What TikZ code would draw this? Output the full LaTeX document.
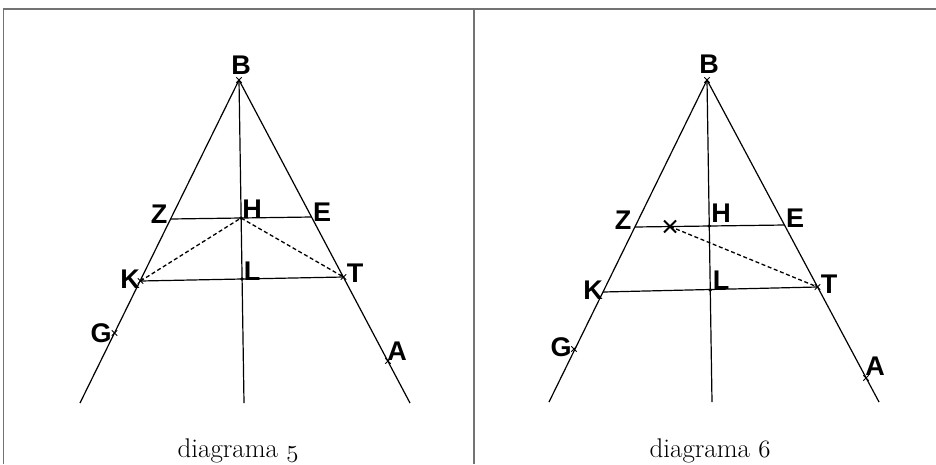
\documentclass[tikz,border=0pt]{standalone}
\usepackage{fontspec}
\newfontfamily\lblfont{Liberation Sans}
\usetikzlibrary{shapes.misc}
\tikzset{
  lbl/.style={font=\lblfont\bfseries\fontsize{27}{27}\selectfont,inner sep=0pt},
  capt/.style={font=\fontsize{27}{27}\selectfont,anchor=base,inner sep=0pt},
  ln/.style={line width=1.2pt},
  dsh/.style={line width=1.3pt,dash pattern=on 4pt off 2.6pt},
  dot/.style={circle,fill,inner sep=0pt,minimum size=3.8pt},
  xmk/.style={draw,cross out,inner sep=0pt,minimum size=4.5pt,line width=0.9pt},
  frm/.style={black!55,line width=1.3pt}
}
\newcommand{\osf}[1]{{\usefont{OML}{cmm}{m}{it}#1}}

\begin{document}
\begin{tikzpicture}[x=1pt,y=-1pt]
  \useasboundingbox (0,0) rectangle (936,464);
  % frame
  \draw[frm] (3.5,464) -- (3.5,9) -- (936,9);
  \draw[frm] (474,9) -- (474,464);

  % diagrama 5
  \coordinate (B5) at (239,80);
  \coordinate (lb5) at (80,403);
  \coordinate (mb5) at (244,403);
  \coordinate (rb5) at (410,403);
  \coordinate (Z5) at (170.5,219);
  \coordinate (H5) at (241,218);
  \coordinate (E5) at (311.5,217);
  \coordinate (K5) at (140.5,281);
  \coordinate (L5) at (242,279);
  \coordinate (T5) at (343.5,277);
  \coordinate (G5) at (114.5,333);
  \coordinate (A5) at (388,361);
  \draw[ln] (lb5) -- (B5) -- (rb5);
  \draw[ln] (B5) -- (mb5);
  \draw[ln] (Z5) -- (E5);
  \draw[ln] (K5) -- (T5);
  \draw[dsh] (K5) -- (H5) -- (T5);
  \node[dot] at (H5) {}; \node[dot] at (L5) {};
  \node[xmk] at (B5) {}; \node[xmk] at (K5) {}; \node[xmk] at (T5) {};
  \node[xmk] at (G5) {}; \node[xmk] at (A5) {};
  \node[lbl] (nB5) at (241,65) {B};
  \node[lbl] (nZ5) at (159,214) {Z};
  \node[lbl] (nH5) at (252,209) {H};
  \node[lbl] (nE5) at (322,212) {E};
  \node[lbl] (nK5) at (130,279) {K};
  \node[lbl] (nL5) at (252,271) {L};
  \node[lbl] (nT5) at (355,273) {T};
  \node[lbl] (nG5) at (101,333) {G};
  \node[lbl] (nA5) at (397,351) {A};
  \node[capt] (cap5) at (238,457) {diagrama \osf{5}};

  % diagrama 6
  \coordinate (B6) at (707,80);
  \coordinate (lb6) at (549,402);
  \coordinate (mb6) at (712,402);
  \coordinate (rb6) at (879,402);
  \coordinate (Z6) at (635,227);
  \coordinate (X6) at (670,226.5);
  \coordinate (H6) at (709.3,226);
  \coordinate (E6) at (784.5,225);
  \coordinate (K6) at (603,292);
  \coordinate (L6) at (710.3,290);
  \coordinate (T6) at (817.5,287);
  \coordinate (G6) at (574,349);
  \coordinate (A6) at (866,378);
  \draw[ln] (lb6) -- (B6) -- (rb6);
  \draw[ln] (B6) -- (mb6);
  \draw[ln] (Z6) -- (E6);
  \draw[ln] (K6) -- (T6);
  \draw[dsh] (X6) -- (T6);
  \node[dot] at (H6) {}; \node[dot] at (L6) {};
  \node[xmk] at (B6) {}; \node[xmk] at (T6) {};
  \node[xmk] at (G6) {}; \node[xmk] at (A6) {};
  \node[xmk,minimum size=10pt,line width=2pt] at (X6) {};
  \node[lbl] (nB6) at (709,64) {B};
  \node[lbl] (nZ6) at (623,220) {Z};
  \node[lbl] (nH6) at (721,213) {H};
  \node[lbl] (nE6) at (795,218) {E};
  \node[lbl] (nK6) at (593,290) {K};
  \node[lbl] (nL6) at (721,280) {L};
  \node[lbl] (nT6) at (829,284) {T};
  \node[lbl] (nG6) at (561,347) {G};
  \node[lbl] (nA6) at (875,366) {A};
  \node[capt] (cap6) at (710,457) {diagrama \osf{6}};
\end{tikzpicture}
\end{document}
